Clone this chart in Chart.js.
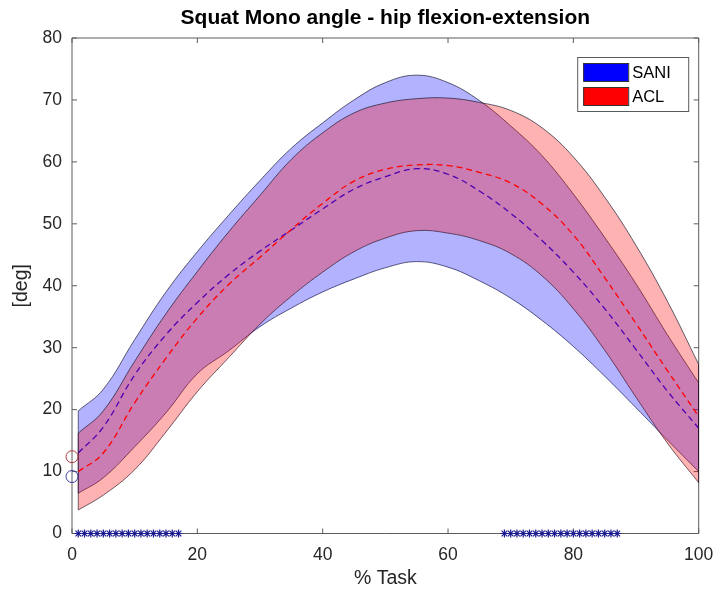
<!DOCTYPE html>
<html>
<head>
<meta charset="utf-8">
<script src="https://cdn.jsdelivr.net/npm/chart.js@4.4.0/dist/chart.umd.min.js"></script>
<style>
  html, body { margin: 0; padding: 0; background: #ffffff; }
  #wrap { width: 715px; height: 595px; }
</style>
</head>
<body>
<div id="wrap"><canvas id="c" width="715" height="595"></canvas></div>
<script>
// ---- data ----
const TITLE = 'Squat Mono angle - hip flexion-extension';
const X_LABEL = '% Task';
const Y_LABEL = '[deg]';
const SERIES = ['SANI', 'ACL'];

const pct = [1, 5, 10, 15, 20, 25, 30, 35, 40, 45, 50, 55, 60, 65, 70, 75, 80, 85, 90, 95, 100];

const saniUpper = [19.8, 23.3, 31.3, 39.0, 45.5, 51.4, 57.0, 62.2, 66.3, 70.0, 72.8, 74.0, 72.8, 69.9, 65.8, 61.0, 54.8, 47.8, 40.3, 32.1, 24.3];
const saniMean  = [13.0, 17.2, 25.6, 32.1, 37.3, 41.8, 45.6, 49.0, 52.4, 55.6, 57.6, 58.9, 58.0, 55.3, 51.7, 47.3, 42.2, 36.3, 29.7, 23.0, 17.0];
const saniLower = [6.5, 9.0, 14.0, 19.5, 25.8, 29.5, 33.4, 36.4, 39.0, 41.1, 42.9, 43.9, 43.0, 40.8, 38.0, 34.4, 30.2, 25.4, 20.3, 15.1, 10.0];

const aclUpper = [16.2, 19.8, 27.8, 35.5, 42.3, 48.7, 54.6, 60.4, 64.7, 67.9, 69.5, 70.2, 70.3, 69.6, 68.3, 65.5, 60.8, 54.3, 46.5, 37.5, 27.3];
const aclMean  = [10.0, 13.0, 21.1, 28.3, 34.8, 40.2, 44.6, 49.1, 53.3, 56.9, 58.8, 59.5, 59.4, 58.3, 56.6, 53.2, 48.2, 41.3, 33.9, 26.3, 18.9];
const aclLower = [3.8, 6.2, 10.3, 16.4, 22.9, 28.4, 33.8, 38.3, 42.2, 45.5, 47.7, 48.9, 48.5, 47.3, 45.2, 41.6, 36.3, 29.6, 22.0, 14.6, 8.2];

// single-point markers at 0 % task
const markerX = [0, 0];
const markerY = [12.4, 9.2];          // ACL, SANI

// samples flagged along the bottom axis
const sigX = [1, 2, 3, 4, 5, 6, 7, 8, 9, 10, 11, 12, 13, 14, 15, 16, 17,
              69, 70, 71, 72, 73, 74, 75, 76, 77, 78, 79, 80, 81, 82, 83, 84, 85, 86, 87];
const sigY = 0;

const X_TICKS = [0, 20, 40, 60, 80, 100];
const Y_TICKS = [0, 10, 20, 30, 40, 50, 60, 70, 80];

// ---- styling ----
const FONT = "'Liberation Sans', Arial, Helvetica, sans-serif";
const AXIS_COLOR = '#5c5c5c';
const TEXT_COLOR = '#262626';
const EDGE = 'rgba(20,20,40,0.85)';
const BLUE = '#0000ff';
const RED = '#ff0000';

const xy = (xs, ys) => xs.map((x, i) => ({ x, y: ys[i] }));
const last = a => a[a.length - 1];

const band = (vals, extra) => Object.assign({
  data: xy(pct, vals),
  borderColor: EDGE,
  borderWidth: 0.8,
  pointRadius: 0,
  tension: 0.4,
  fill: false
}, extra);

// closing edges of a band at its first and last sample
const ends = (lo, up, order) => ({
  label: 'edges',
  data: [
    { x: pct[0], y: lo[0] }, { x: pct[0], y: up[0] },
    { x: pct[0], y: null },
    { x: last(pct), y: up[up.length - 1] }, { x: last(pct), y: last(lo) }
  ],
  borderColor: EDGE,
  borderWidth: 0.8,
  pointRadius: 0,
  tension: 0,
  spanGaps: false,
  fill: false,
  order
});

const datasets = [
  band(saniUpper, { label: SERIES[0] + ' upper', fill: { target: 1 }, backgroundColor: 'rgba(0,0,255,0.3)', order: 5 }),
  band(saniLower, { label: SERIES[0] + ' lower', order: 5 }),
  band(saniMean,  { label: SERIES[0] + ' mean', borderColor: BLUE, borderWidth: 1.3, borderDash: [6, 4], order: 4 }),
  band(aclUpper,  { label: SERIES[1] + ' upper', fill: { target: 4 }, backgroundColor: 'rgba(255,0,0,0.3)', order: 3 }),
  band(aclLower,  { label: SERIES[1] + ' lower', order: 3 }),
  band(aclMean,   { label: SERIES[1] + ' mean', borderColor: RED, borderWidth: 1.3, borderDash: [6, 4], order: 2 }),
  ends(saniLower, saniUpper, 5),
  ends(aclLower, aclUpper, 3),
  {
    label: 'flagged',
    data: sigX.map(x => ({ x, y: sigY })),
    showLine: false,
    pointStyle: 'star',
    pointRadius: 4,
    pointBorderWidth: 1.2,
    pointBorderColor: '#1c1c90',
    pointBackgroundColor: 'rgba(0,0,0,0)',
    clip: false,
    order: 1
  },
  {
    label: 'start',
    data: xy(markerX, markerY),
    showLine: false,
    pointStyle: 'circle',
    pointRadius: 6,
    pointBorderWidth: 1,
    pointBorderColor: ['#b33a3a', '#3d3da3'],
    pointBackgroundColor: 'rgba(0,0,0,0)',
    clip: false,
    order: 0
  }
];

// box around the axes with inward ticks on all four sides, plus the title
const frame = {
  id: 'frame',
  beforeDatasetsDraw(chart) {
    const { ctx, chartArea: a, scales: { x, y } } = chart;
    const t = 5;
    ctx.save();
    ctx.strokeStyle = AXIS_COLOR;
    ctx.lineWidth = 1;
    ctx.beginPath();
    ctx.rect(a.left, a.top, a.right - a.left, a.bottom - a.top);
    X_TICKS.forEach(v => {
      const px = x.getPixelForValue(v);
      ctx.moveTo(px, a.bottom); ctx.lineTo(px, a.bottom - t);
      ctx.moveTo(px, a.top);    ctx.lineTo(px, a.top + t);
    });
    Y_TICKS.forEach(v => {
      const py = y.getPixelForValue(v);
      ctx.moveTo(a.left, py);  ctx.lineTo(a.left + t, py);
      ctx.moveTo(a.right, py); ctx.lineTo(a.right - t, py);
    });
    ctx.stroke();
    ctx.restore();
  },
  afterDraw(chart) {
    const { ctx, chartArea: a } = chart;
    ctx.save();
    ctx.fillStyle = '#000000';
    ctx.font = 'bold 21px ' + FONT;
    ctx.textAlign = 'center';
    ctx.textBaseline = 'middle';
    ctx.fillText(TITLE, (a.left + a.right) / 2, 18);
    ctx.restore();
  }
};

// legend box in the upper-right corner of the axes
const legendBox = {
  id: 'legendBox',
  afterDraw(chart) {
    const { ctx, chartArea: a } = chart;
    const w = 111, h = 54;
    const bx = a.right - 10.5 - w, by = a.top + 19;
    const items = [{ text: SERIES[0], color: BLUE }, { text: SERIES[1], color: RED }];
    ctx.save();
    ctx.fillStyle = '#ffffff';
    ctx.fillRect(bx, by, w, h);
    ctx.strokeStyle = '#5a5a5a';
    ctx.lineWidth = 1;
    ctx.strokeRect(bx + 0.5, by + 0.5, w, h);
    ctx.font = '16.5px ' + FONT;
    ctx.textAlign = 'left';
    ctx.textBaseline = 'middle';
    items.forEach((it, i) => {
      const sy = by + 6 + i * 24;
      ctx.fillStyle = it.color;
      ctx.fillRect(bx + 6, sy, 45, 18);
      ctx.strokeStyle = '#333333';
      ctx.strokeRect(bx + 6.5, sy + 0.5, 45, 18);
      ctx.fillStyle = '#000000';
      ctx.fillText(it.text, bx + 55, sy + 10);
    });
    ctx.restore();
  }
};

new Chart(document.getElementById('c'), {
  type: 'line',
  data: { datasets },
  options: {
    responsive: false,
    animation: false,
    events: [],
    layout: { padding: { left: 0, right: 16.3, top: 38, bottom: 0 } },
    plugins: {
      legend: { display: false },
      tooltip: { enabled: false },
      title: { display: false },
      filler: { propagate: false, drawTime: 'beforeDatasetDraw' }
    },
    scales: {
      x: {
        type: 'linear',
        min: 0,
        max: 100,
        afterBuildTicks: s => { s.ticks = X_TICKS.map(v => ({ value: v })); },
        afterFit: s => { s.height = 61.5; s.paddingLeft = 0; s.paddingRight = 0; },
        grid: { display: false, drawTicks: false },
        border: { display: false },
        ticks: { padding: 11, color: TEXT_COLOR, font: { family: FONT, size: 17.5 }, maxRotation: 0 },
        title: { display: true, text: X_LABEL, color: TEXT_COLOR, font: { family: FONT, size: 19.5 }, padding: { top: 0, bottom: 5 } }
      },
      y: {
        type: 'linear',
        min: 0,
        max: 80,
        afterBuildTicks: s => { s.ticks = Y_TICKS.map(v => ({ value: v })); },
        afterFit: s => { s.width = 72; s.paddingTop = 0; s.paddingBottom = 0; },
        grid: { display: false, drawTicks: false },
        border: { display: false },
        ticks: { padding: 10, color: TEXT_COLOR, font: { family: FONT, size: 17.5 } },
        title: { display: true, text: Y_LABEL, color: TEXT_COLOR, font: { family: FONT, size: 19.5 }, padding: { top: 10, bottom: 0 } }
      }
    }
  },
  plugins: [frame, legendBox]
});
</script>
</body>
</html>
